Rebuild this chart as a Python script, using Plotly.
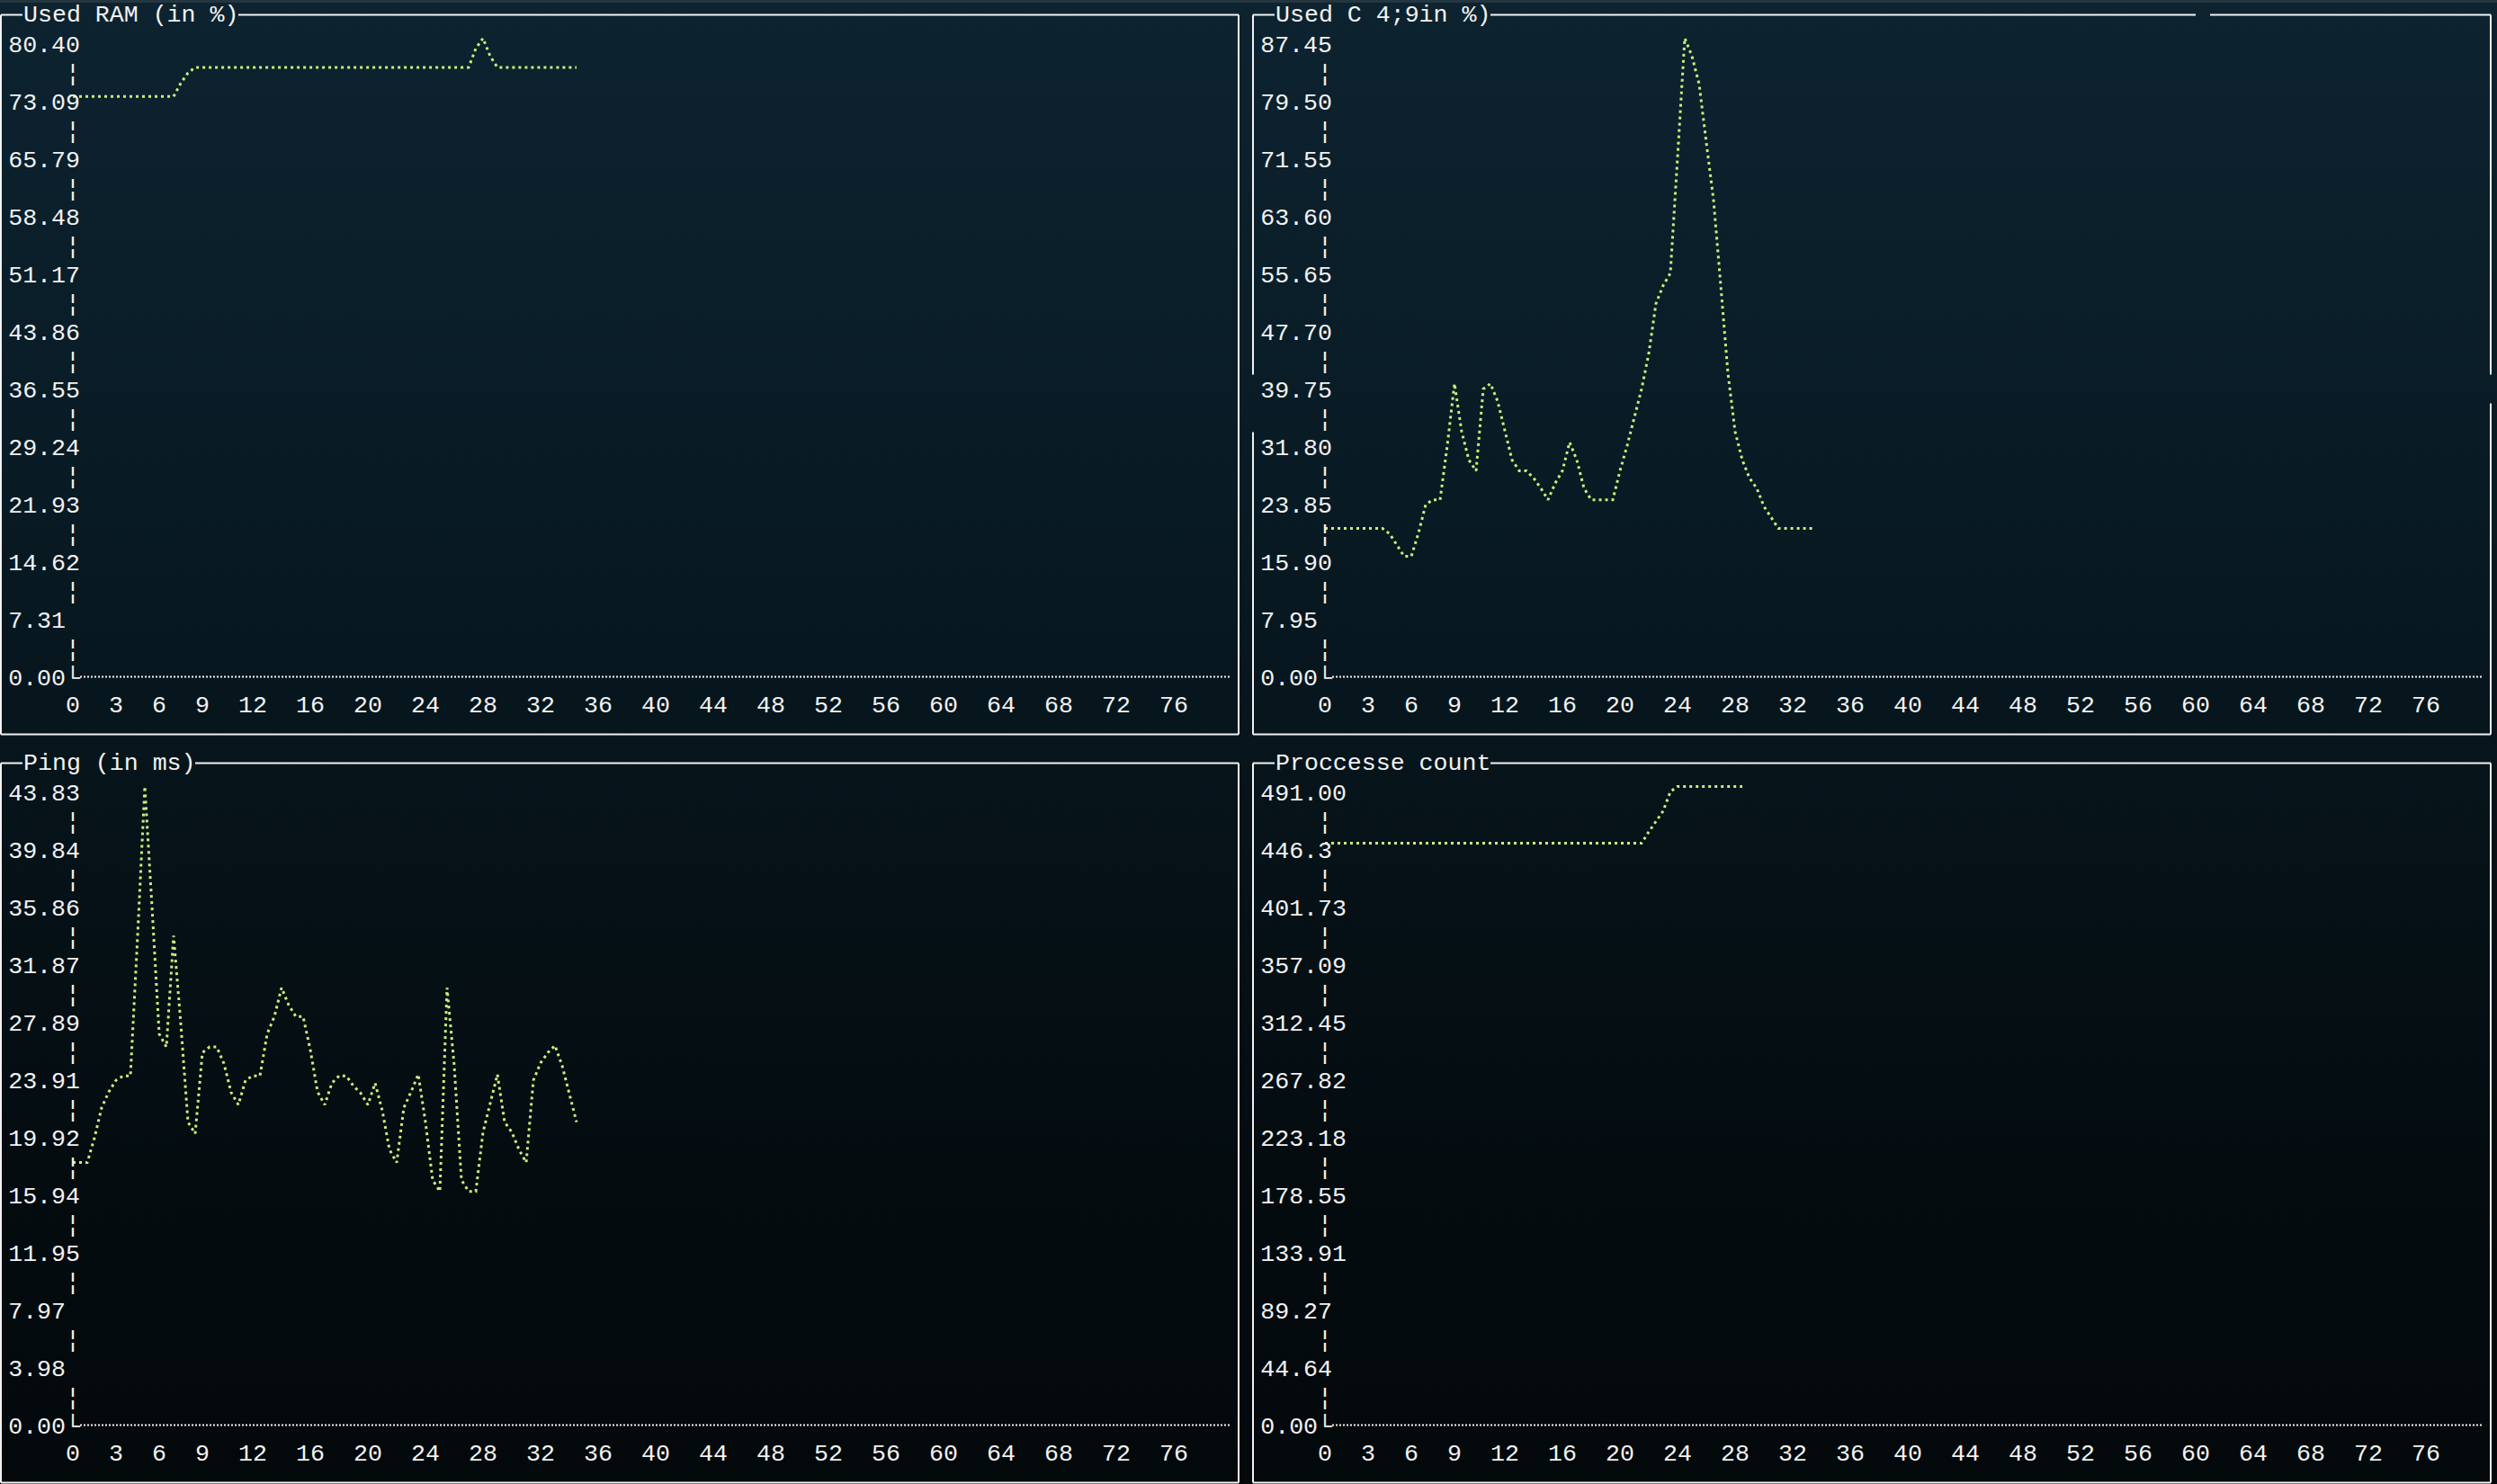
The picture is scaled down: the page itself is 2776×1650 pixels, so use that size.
import base64
import plotly.graph_objects as go

# ---------------- data (two samples per x unit) ----------------
STEP = 0.5

ram_used = [
    73.0, 73.0, 73.0, 73.0, 73.0, 73.0, 73.0, 73.0, 73.0, 73.0,
    73.0, 73.0, 73.0, 73.0, 73.0, 74.7, 76.0, 76.7, 76.7, 76.7,
    76.7, 76.7, 76.7, 76.7, 76.7, 76.7, 76.7, 76.7, 76.7, 76.7,
    76.7, 76.7, 76.7, 76.7, 76.7, 76.7, 76.7, 76.7, 76.7, 76.7,
    76.7, 76.7, 76.7, 76.7, 76.7, 76.7, 76.7, 76.7, 76.7, 76.7,
    76.7, 76.7, 76.7, 76.7, 76.7, 76.7, 79.1, 80.4, 78.1, 76.7,
    76.7, 76.7, 76.7, 76.7, 76.7, 76.7, 76.7, 76.7, 76.7, 76.7,
    76.7,
]

cpu_used = [
    19.75, 19.75, 19.75, 19.75, 19.75, 19.75, 19.75, 19.75, 19.75, 19.0,
    17.4, 15.9, 15.9, 19.1, 23.05, 23.7, 23.7, 31.2, 39.75, 33.1,
    29.2, 27.7, 39.0, 39.75, 37.3, 33.1, 29.2, 27.7, 27.7, 26.7,
    25.3, 23.7, 26.0, 27.7, 31.65, 29.2, 25.3, 23.7, 23.7, 23.7,
    23.7, 27.7, 31.2, 35.1, 39.0, 43.9, 50.8, 53.3, 55.0, 71.0,
    87.45, 85.0, 81.1, 73.0, 65.1, 53.3, 41.2, 33.1, 29.2, 26.7,
    25.3, 22.8, 21.3, 19.75, 19.75, 19.75, 19.75, 19.75, 19.75,
]

ping_ms = [
    17.8, 17.8, 17.8, 19.5, 21.6, 22.7, 23.5, 23.8, 23.8, 33.5,
    43.83, 35.5, 26.7, 25.8, 33.5, 27.4, 20.6, 19.8, 25.4, 25.8,
    25.8, 24.65, 22.65, 21.8, 23.5, 23.8, 23.8, 26.7, 27.9, 29.9,
    28.7, 27.9, 27.9, 25.6, 22.7, 21.8, 23.3, 23.8, 23.8, 23.1,
    22.6, 21.8, 23.3, 21.4, 18.7, 17.8, 21.6, 22.7, 23.9, 20.6,
    16.6, 15.8, 29.9, 24.5, 16.6, 15.8, 15.8, 19.9, 21.9, 23.9,
    20.6, 19.9, 18.7, 17.8, 23.5, 24.7, 25.4, 25.9, 24.5, 22.6,
    20.6,
]

proc_count = [
    447.1, 447.1, 447.1, 447.1, 447.1, 447.1, 447.1, 447.1, 447.1, 447.1,
    447.1, 447.1, 447.1, 447.1, 447.1, 447.1, 447.1, 447.1, 447.1, 447.1,
    447.1, 447.1, 447.1, 447.1, 447.1, 447.1, 447.1, 447.1, 447.1, 447.1,
    447.1, 447.1, 447.1, 447.1, 447.1, 447.1, 447.1, 447.1, 447.1, 447.1,
    447.1, 447.1, 447.1, 447.1, 447.1, 455.9, 464.1, 472.0, 487.0, 491.0,
    491.0, 491.0, 491.0, 491.0, 491.0, 491.0, 491.0, 491.0, 491.0,
]

ram_ticks = ["0.00", "7.31", "14.62", "21.93", "29.24", "36.55", "43.86",
             "51.17", "58.48", "65.79", "73.09", "80.40"]
cpu_ticks = ["0.00", "7.95", "15.90", "23.85", "31.80", "39.75", "47.70",
             "55.65", "63.60", "71.55", "79.50", "87.45"]
ping_ticks = ["0.00", "3.98", "7.97", "11.95", "15.94", "19.92", "23.91",
              "27.89", "31.87", "35.86", "39.84", "43.83"]
proc_ticks = ["0.00", "44.64", "89.27", "133.91", "178.55", "223.18", "267.82",
              "312.45", "357.09", "401.73", "446.3", "491.00"]
x_ticks = [0, 3, 6, 9, 12, 16, 20, 24, 28, 32, 36, 40, 44, 48, 52, 56, 60,
           64, 68, 72, 76]

titles = ["Used RAM (in %)", "Used C 4;9in %)", "Ping (in ms)", "Proccesse count"]

# ---------------- terminal geometry ----------------
W, H = 2776, 1650
CW, RH = 16, 32
FONT = "Liberation Mono, DejaVu Sans Mono, monospace"
FS = 26.6
WHITE = "#f2f2f2"
DOT = "#c6f07c"
NB = "\u00a0"


def cx(c):
    return 1 + CW * c


def ry(r):
    return 16.5 + RH * r


def xp(px):
    return px / W


def yp(py):
    return 1 - py / H


panels = [
    dict(left=0, right=86, top=0, bottom=25, title=titles[0], ticks=ram_ticks, vals=ram_used, lw=5),
    dict(left=87, right=173, top=0, bottom=25, title=titles[1], ticks=cpu_ticks, vals=cpu_used, lw=5),
    dict(left=0, right=86, top=26, bottom=51, title=titles[2], ticks=ping_ticks, vals=ping_ms, lw=5),
    dict(left=87, right=173, top=26, bottom=51, title=titles[3], ticks=proc_ticks, vals=proc_count, lw=6),
]

fig = go.Figure()
shapes = []
annotations = []
layout = {}

line_style = dict(color=WHITE, width=2)


def hline(x0, x1, y):
    return dict(type="line", xref="paper", yref="paper", x0=x0, x1=x1, y0=y, y1=y, line=line_style)


def vline(x, y0, y1):
    return dict(type="line", xref="paper", yref="paper", x0=x, x1=x, y0=y0, y1=y1, line=line_style)


for i, p in enumerate(panels, start=1):
    left, right, top, bottom, lw = p["left"], p["right"], p["top"], p["bottom"], p["lw"]
    ticks = p["ticks"]
    ymax = float(ticks[-1])
    zero_px = ry(top + 23) - 6
    max_px = ry(top + 1) - 6
    s = (zero_px - max_px) / ymax
    pad = 10
    x0px = cx(left + 5)

    tv, tt = [], []
    for k, lab in enumerate(ticks):
        v = float(lab)
        txt = lab + "\u2514" if k == 0 else lab
        tv.append(v)
        tt.append(txt + NB * (lw - len(txt)))
        if k < len(ticks) - 1:
            tv.append((v + float(ticks[k + 1])) / 2)
            tt.append("\u00a6" + NB * (lw - 5))

    label_right = cx(left + lw) + 8
    xs = "" if i == 1 else str(i)
    layout["xaxis" + xs] = dict(
        domain=[xp(x0px - 8), xp(x0px + 80 * CW + 8)],
        range=[-0.5, 80.5],
        anchor="free", position=yp(ry(top + 23)),
        tickvals=x_ticks,
        ticktext=[(NB + str(t)) if t >= 10 else str(t) for t in x_ticks],
        tickangle=0, ticks="", showgrid=False, zeroline=False, showline=False,
        ticklabelstandoff=12, automargin=False,
        tickfont=dict(family=FONT, size=FS, color=WHITE),
        fixedrange=True,
    )
    layout["yaxis" + xs] = dict(
        domain=[yp(zero_px + pad), yp(max_px - pad)],
        range=[-pad / s, ymax + pad / s],
        anchor="free", position=xp(label_right),
        tickvals=tv, ticktext=tt,
        ticks="", showgrid=False, zeroline=False, showline=False,
        ticklabelshift=6, automargin=False,
        tickfont=dict(family=FONT, size=FS, color=WHITE),
        fixedrange=True,
    )

    xvals = [k * STEP for k in range(len(p["vals"]))]
    fig.add_trace(go.Scatter(
        x=xvals, y=p["vals"], mode="lines",
        line=dict(color=DOT, width=3, dash="3px,4px"),
        xaxis="x" + xs, yaxis="y" + xs, showlegend=False, hoverinfo="skip",
    ))

    ax_y = yp(ry(top + 23))
    shapes.append(dict(type="line", xref="paper", yref="paper",
                       x0=xp(cx(left + 5) + 8), x1=xp(cx(left + 85) + 8),
                       y0=ax_y, y1=ax_y,
                       line=dict(color=WHITE, width=2, dash="2px,2px")))

    n = len(p["title"])
    yt, yb = yp(ry(top)), yp(ry(bottom))
    xl, xr = xp(cx(left)), xp(cx(right))
    shapes.append(hline(xl, xp(cx(left + 2) - 8), yt))
    if i == 2:
        shapes.append(hline(xp(cx(left + 2 + n) - 8), xp(cx(153) - 8), yt))
        shapes.append(hline(xp(cx(153) + 8), xr, yt))
        shapes.append(vline(xl, yt, yp(ry(13) - 16)))
        shapes.append(vline(xl, yp(ry(14) + 16), yb))
        shapes.append(vline(xr, yt, yp(ry(13) - 16)))
        shapes.append(vline(xr, yp(ry(13) + 16), yb))
    else:
        shapes.append(hline(xp(cx(left + 2 + n) - 8), xr, yt))
        shapes.append(vline(xl, yt, yb))
        shapes.append(vline(xr, yt, yb))
    shapes.append(hline(xl, xr, yb))

    annotations.append(dict(
        text=p["title"], xref="paper", yref="paper",
        x=xp(cx(left + 2) - 8), y=yt, xanchor="left", yanchor="middle",
        showarrow=False, borderpad=0,
        font=dict(family=FONT, size=FS, color=WHITE),
    ))

shapes.append(dict(type="rect", xref="paper", yref="paper", x0=0, x1=1,
                   y0=yp(3), y1=1, line=dict(width=0), fillcolor="#24363f", layer="below"))

svg = (
    '<svg xmlns="http://www.w3.org/2000/svg" width="{w}" height="{h}" preserveAspectRatio="none">'
    '<defs><linearGradient id="g" x1="0" y1="0" x2="0" y2="1">'
    '<stop offset="0" stop-color="#0d2330"/>'
    '<stop offset="0.29" stop-color="#091c26"/>'
    '<stop offset="0.46" stop-color="#07161e"/>'
    '<stop offset="0.55" stop-color="#061319"/>'
    '<stop offset="0.78" stop-color="#040c10"/>'
    '<stop offset="1" stop-color="#03080b"/>'
    '</linearGradient></defs>'
    '<rect width="100%" height="100%" fill="url(#g)"/></svg>'
).format(w=W, h=H)
bg_src = "data:image/svg+xml;base64," + base64.b64encode(svg.encode()).decode()

fig.update_layout(
    width=W, height=H,
    margin=dict(l=0, r=0, t=0, b=0, pad=0, autoexpand=False),
    paper_bgcolor="#03080b", plot_bgcolor="rgba(0,0,0,0)",
    showlegend=False,
    shapes=shapes, annotations=annotations,
    images=[dict(source=bg_src, xref="paper", yref="paper", x=0, y=1,
                 sizex=1, sizey=1, xanchor="left", yanchor="top",
                 sizing="stretch", layer="below")],
    **layout,
)

fig.write_html(
    "out.html",
    config={"displayModeBar": False},
    post_script=(
        "document.body.style.margin='0';"
        "document.body.style.background='#03080b';"
        "document.documentElement.style.background='#03080b';"
    ),
)
